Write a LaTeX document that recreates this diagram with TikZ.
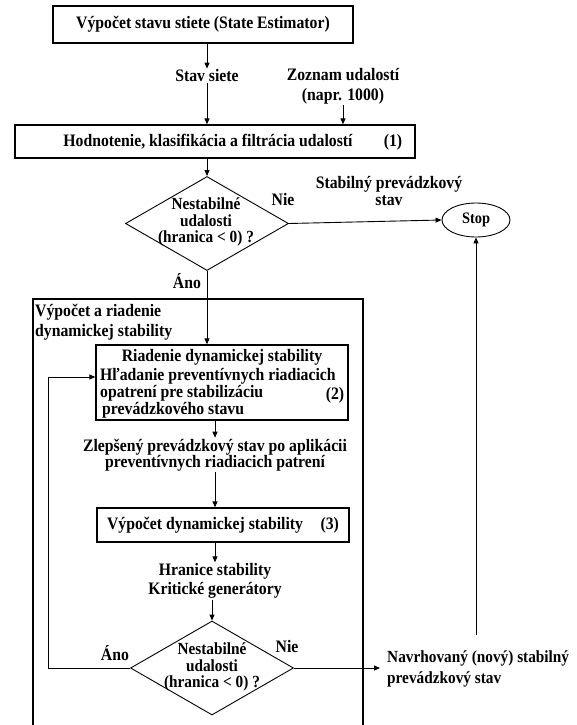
\documentclass[tikz,border=0pt]{standalone}
\usepackage{fontspec}
\setmainfont{Liberation Serif}[FakeStretch=0.9]
\usetikzlibrary{arrows.meta,positioning,shapes.geometric}

\begin{document}
\begin{tikzpicture}[x=1pt,y=-1pt,>={Triangle[length=6pt,width=5pt]},
  b/.style={draw,line width=1.3pt,inner sep=0pt,
            font=\fontsize{17.5}{19}\selectfont\bfseries},
  t/.style={align=center,inner sep=1pt,
            font=\fontsize{17.5}{19}\selectfont\bfseries},
  qt/.style={t,font=\fontsize{17}{16.5}\selectfont\bfseries},
  q/.style={draw,diamond,line width=0.9pt,inner sep=0pt,
            minimum width=163pt,minimum height=94pt},
  l/.style={->,line width=0.9pt}]
  \useasboundingbox (0,0) rectangle (576,725);
  \clip (0,0) rectangle (576,725);
  \fill[white] (0,0) rectangle (576,725);
  % upper part
  \node[b,minimum width=300pt,minimum height=37pt] (est) at (203,24.5)
       {Výpočet stavu stiete (State Estimator)};
  \node[t] (stav) at (207,76) {Stav siete};
  \node[t,font=\fontsize{17.5}{20}\selectfont\bfseries] (zoz) at (343,86)
       {Zoznam udalostí\\(napr. 1000)};
  \node[b,minimum width=400pt,minimum height=33pt] (eval) at (215,141.5)
       {\hspace*{-14pt}Hodnotenie, klasifikácia a filtrácia udalostí};
  \node[t] (n1) at (393,142) {(1)};
  \draw[l] (est.south -| stav) -- (stav);
  \draw[l] (stav) -- (stav |- eval.north);
  \draw[l] (zoz) -- (zoz |- eval.north);
  \node[q] (q1) at (207,223.5) {};
  \node[qt] (q1t) at (206,222) {Nestabilné\\udalosti\\(hranica < 0) ?};
  \draw[l] (eval.south -| q1) -- (q1.north);
  \node[t] (nie1) at (283,200) {Nie};
  \node[t,font=\fontsize{17.5}{17}\selectfont\bfseries] (stab) at (389,191)
       {Stabilný prevádzkový\\stav};
  \node[draw,ellipse,line width=0.9pt,inner sep=0pt,minimum width=68pt,
        minimum height=34pt,font=\fontsize{16}{17}\selectfont\bfseries]
       (stop) at (476,220) {Stop};
  \draw[l] (q1.east) -- (stop.west);
  \node[t] (ano1) at (187,281) {Áno};
  % stability block
  \node[draw,line width=2.4pt,minimum width=330pt,minimum height=440pt,
        anchor=north west] (grp) at (32,298) {};
  \node[t,align=left,anchor=north west,font=\fontsize{17.5}{20}\selectfont\bfseries]
       (grpt) at (34,303) {Výpočet a riadenie\\dynamickej stability};
  \node[b,minimum width=252pt,minimum height=75pt] (ctrl) at (222,382.5) {};
  \node[t,anchor=north] (ctrlt) at ([yshift=-4pt]ctrl.north)
       {Riadenie dynamickej stability};
  \node[t,align=left,anchor=west,font=\fontsize{17.5}{15.5}\selectfont\bfseries]
       (ctrlx) at (99,393) {Hľadanie preventívnych riadiacich\\
       opatrení pre stabilizáciu\\\hspace*{2pt}prevádzkového stavu};
  \node[t] (n2) at (335,395) {(2)};
  \draw[l] (q1.south) -- (q1.south |- ctrl.north);
  \node[t,font=\fontsize{17.5}{16}\selectfont\bfseries] (zlep) at (215,455)
       {Zlepšený prevádzkový stav po aplikácii\\preventívnych riadiacich patrení};
  \draw[l] (ctrl.south -| zlep) -- (zlep);
  \node[b,minimum width=252pt,minimum height=34pt] (dyn) at (223,525)
       {Výpočet dynamickej stability\quad(3)};
  \draw[l] (zlep) -- (zlep |- dyn.north);
  \node[t] (hran) at (215,581) {Hranice stability\\Kritické generátory};
  \draw[l] (dyn.south -| hran) -- (hran);
  \node[q] (q2) at (212,668) {};
  \node[qt] (q2t) at (212,667) {Nestabilné\\udalosti\\(hranica < 0) ?};
  \draw[l] (hran.south -| q2) -- (q2.north);
  \node[t] (ano2) at (115,653) {Áno};
  \node[t] (nie2) at (287,647) {Nie};
  % feedback loop and exits
  \coordinate (fb) at (48,377);
  \draw[l] (q2.west) -| (fb) -- (fb -| ctrl.west);
  \node[t,align=left,anchor=west,inner sep=0pt,
        font=\fontsize{17}{21}\selectfont\bfseries]
       (nav) at (387,669) {Navrhovaný (nový) stabilný\\prevádzkový stav};
  \draw[l,shorten >=7pt] (q2.east) -- (q2.east -| nav.west);
  \coordinate (stopend) at (476,635);
  \draw[l] (stopend) -- (stop.south);
\end{tikzpicture}
\end{document}
